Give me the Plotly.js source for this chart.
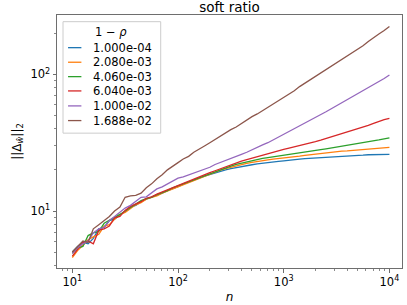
<!DOCTYPE html>
<html>
<head>
<meta charset="utf-8">
<script src="https://cdn.plot.ly/plotly-3.0.1.min.js"></script>
<style>html,body{margin:0;padding:0;background:#fff;}#chart{width:407px;height:305px;}</style>
</head>
<body>
<div id="chart"></div>
<script>
const nValues = [10,11.2,12.6,14.1,15.8,17.8,20,22.4,25.1,28.2,31.6,35.5,39.8,44.7,50.1,56.2,63.1,70.8,79.4,89.1,
  100,112,126,141,158,178,200,224,251,282,316,355,398,447,501,562,631,708,794,891,
  1000,1122,1259,1413,1585,1778,1995,2239,2512,2818,3162,3548,3981,4467,5012,5623,6310,7079,7943,8913,10000];

const seriesLabels = ["1.000e-04","2.080e-03","4.060e-03","6.040e-03","1.000e-02","1.688e-02"];

const rho1 = [5.01,5.50,5.89,5.75,6.31,7.41,7.59,8.51,8.71,9.33,10.0,10.7,11.0,11.7,12.2,12.6,13.0,13.5,14.1,14.5,15.1,
  15.7,16.2,16.8,17.4,18.0,18.5,19.1,19.5,20.0,20.4,20.8,21.1,21.5,21.8,22.1,22.4,22.6,22.9,23.1,23.3,
  23.6,23.8,24.0,24.2,24.3,24.5,24.7,24.8,24.9,25.1,25.2,25.3,25.4,25.5,25.6,25.8,25.8,25.9,25.9,26.0];
const rho2 = [4.57,5.13,5.62,6.17,6.46,6.76,7.76,7.94,8.71,9.44,9.77,10.5,11.1,11.5,12.2,12.6,12.9,13.5,14.0,14.5,15.0,
  15.5,16.0,16.8,17.4,18.0,18.6,19.3,19.9,20.4,20.9,21.4,21.9,22.3,22.7,23.1,23.4,23.7,24.0,24.3,24.5,
  24.8,25.0,25.2,25.5,25.8,26.1,26.3,26.6,26.9,27.1,27.4,27.5,27.7,28.0,28.2,28.4,28.6,28.8,29.0,29.2];
const rho3 = [4.90,5.37,5.50,6.61,6.92,7.08,8.13,8.51,9.02,9.44,10.0,10.6,11.2,11.9,12.3,12.6,13.2,13.6,14.1,14.8,15.3,
  15.8,16.4,17.0,17.6,18.2,18.8,19.5,20.1,20.7,21.3,21.9,22.4,22.9,23.3,23.8,24.3,24.6,24.9,25.4,25.7,
  26.0,26.3,26.6,26.9,27.3,27.7,28.1,28.5,28.9,29.3,29.7,30.2,30.6,31.0,31.5,32.0,32.5,33.1,33.7,34.3];
const rho4 = [4.68,5.25,5.89,6.03,5.75,7.24,7.41,7.76,8.91,9.12,10.1,10.8,11.2,11.7,12.4,12.7,13.3,13.8,14.3,14.8,15.5,
  16.0,16.6,17.2,17.8,18.4,19.1,19.7,20.4,21.1,21.9,22.5,23.2,23.8,24.4,25.1,25.7,26.3,26.9,27.5,28.2,
  28.8,29.4,30.0,30.6,31.4,32.2,33.0,33.9,34.8,35.6,36.6,37.6,38.6,39.8,41.0,42.3,43.7,45.2,46.6,47.6];
const rho5 = [4.90,5.37,5.75,6.03,6.92,7.41,7.59,8.51,9.12,9.77,10.5,11.0,11.7,12.6,12.7,13.5,14.5,15.0,15.7,16.6,17.4,
  17.8,18.4,19.1,19.7,20.4,20.9,21.9,22.6,23.4,24.3,25.1,26.0,26.9,28.1,29.2,30.5,31.6,33.1,34.7,36.3,
  38.0,39.8,41.7,43.7,45.9,48.3,50.7,53.2,56.0,58.9,61.9,65.0,68.4,71.9,75.9,79.8,84.1,88.7,93.3,98.9];
const rho6 = [5.01,5.50,6.03,5.89,7.41,7.94,8.51,9.12,10.0,10.7,12.6,12.9,13.0,13.5,14.8,15.8,17.2,18.4,20.0,21.4,22.6,
  24.0,25.1,26.9,28.5,29.9,31.6,33.5,35.5,37.2,39.4,41.2,43.7,46.2,49.0,51.3,54.3,57.5,61.0,63.8,67.6,
  71.6,75.9,81.3,86.1,90.2,95.5,101,107,114,120,127,135,144,153,162,174,184,197,209,224];

const xTickVals = [10,100,1000,10000];
const xTickText = ["10<sup>1</sup>","10<sup>2</sup>","10<sup>3</sup>","10<sup>4</sup>"];
const yTickVals = [10,100];
const yTickText = ["10<sup>1</sup>","10<sup>2</sup>"];

const colors = ["#1f77b4","#ff7f0e","#2ca02c","#d62728","#9467bd","#8c564b"];
const allSeries = [rho1,rho2,rho3,rho4,rho5,rho6];

const traces = allSeries.map((ys,i)=>({
  x: nValues, y: ys, type:'scatter', mode:'lines', name: seriesLabels[i],
  line:{color:colors[i], width:1.3}, showlegend:false
}));

function minorVals(lo, hi){
  const v=[];
  for(let d=lo; d<=hi; d*=10){ for(let k=2;k<=9;k++){ v.push(k*d); } }
  return v;
}

// manual legend (matplotlib-like spacing)
const legX0 = 0.0174, legX1 = 0.3006, legY0 = 0.533, legY1 = 0.9736;
const entryY = [0.8709,0.8133,0.7564,0.6999,0.6407,0.5827];
const shapes = [{
  type:'rect', xref:'paper', yref:'paper', x0:legX0, x1:legX1, y0:legY0, y1:legY1,
  line:{color:'#cccccc', width:1}, fillcolor:'rgba(255,255,255,0.8)', layer:'above'
}];
const annotations = [{
  xref:'paper', yref:'paper', x:0.1577, y:0.934, text:'1 − <i>ρ</i>', showarrow:false,
  xanchor:'center', yanchor:'middle', font:{family:'DejaVu Sans', size:11.5, color:'#000'}
}];
seriesLabels.forEach((lab,i)=>{
  shapes.push({type:'line', xref:'paper', yref:'paper', x0:0.032, x1:0.0707, y0:entryY[i], y1:entryY[i],
    line:{color:colors[i], width:1.3}, layer:'above'});
  annotations.push({xref:'paper', yref:'paper', x:0.0997, y:entryY[i], text:lab, showarrow:false,
    xanchor:'left', yanchor:'middle', font:{family:'DejaVu Sans', size:11.5, color:'#000'}});
});

const axisCommon = {
  type:'log', showgrid:false, zeroline:false, showline:true, mirror:true,
  linecolor:'#6e6e6e', linewidth:1, ticks:'outside', ticklen:3.5, tickwidth:1, tickcolor:'#6e6e6e',
  tickfont:{family:'DejaVu Sans', size:11.5, color:'#000'}
};

const layout = {
  width:407, height:305,
  margin:{l:57, r:5, t:15, b:37},
  paper_bgcolor:'#fff', plot_bgcolor:'#fff',
  font:{family:'DejaVu Sans', color:'#000'},
  title:{text:'soft ratio', font:{family:'DejaVu Sans', size:13.5, color:'#000'},
    xref:'paper', x:0.5, xanchor:'center', yref:'container', y:0.977, yanchor:'middle'},
  xaxis: Object.assign({}, axisCommon, {
    range:[0.855, 4.119], tickvals:xTickVals, ticktext:xTickText,
    minor:{tickvals:minorVals(1,1000), ticks:'outside', ticklen:2, tickcolor:'#6e6e6e', tickwidth:0.8},
    title:{text:'<i>n</i>', font:{family:'DejaVu Sans', size:12, color:'#000'}, standoff:4}
  }),
  yaxis: Object.assign({}, axisCommon, {
    range:[0.583, 2.434], tickvals:yTickVals, ticktext:yTickText,
    minor:{tickvals:minorVals(1,100), ticks:'outside', ticklen:2, tickcolor:'#6e6e6e', tickwidth:0.8},
    title:{text:'||Δ<sub><i>ŵ</i></sub>||<sub>2</sub>', font:{family:'DejaVu Sans', size:12, color:'#000'}, standoff:6}
  }),
  shapes: shapes,
  annotations: annotations,
  showlegend:false
};

Plotly.newPlot('chart', traces, layout, {displayModeBar:false, staticPlot:true});
</script>
</body>
</html>
